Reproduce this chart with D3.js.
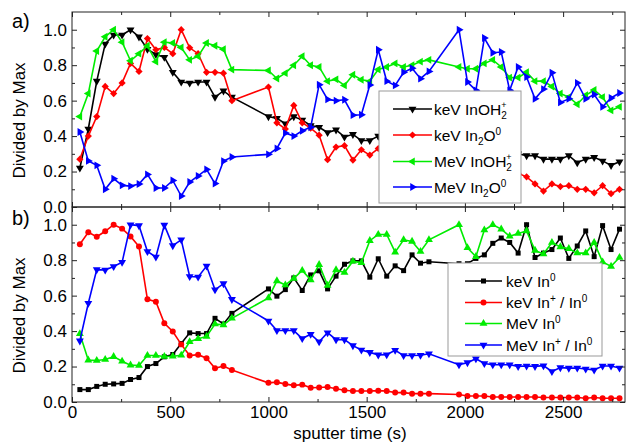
<!DOCTYPE html>
<html>
<head>
<meta charset="utf-8">
<script src="https://cdn.jsdelivr.net/npm/d3@7"></script>
<style>
  body { margin: 0; background: #fff; }
  text { font-family: "Liberation Sans", Arial, sans-serif; fill: #000; }
</style>
</head>
<body>
<div id="chart"></div>
<script>
// sputter times (s), shared by all series
var times = [40, 83, 126, 169, 212, 255, 298, 341, 384, 427, 470, 513, 556, 599, 642, 685, 728, 771, 814,
  1000, 1043, 1086, 1129, 1172, 1215, 1258, 1301, 1344, 1387, 1430, 1473, 1516, 1559, 1602, 1645, 1688, 1731, 1774, 1817,
  1970, 2013, 2056, 2099, 2142, 2185, 2228, 2271, 2314, 2357, 2400, 2443, 2486, 2529, 2572, 2615, 2658, 2701, 2744, 2787];

// panel a
var keVInOH2 = [0.22, 0.44, 0.71, 0.92, 0.97, 0.97, 1.0, 0.96, 0.89, 0.86, 0.845, 0.76, 0.705, 0.70, 0.705, 0.705, 0.62, 0.655, 0.62,
  0.51, 0.50, 0.47, 0.51, 0.49, 0.46, 0.45, 0.42, 0.435, 0.395, 0.41, 0.375, 0.375, 0.40, 0.38, 0.37, 0.37, 0.36, 0.35, 0.34,
  0.33, 0.33, 0.32, 0.32, 0.31, 0.31, 0.30, 0.30, 0.29, 0.29, 0.27, 0.27, 0.27, 0.29, 0.25, 0.27, 0.28, 0.26, 0.235, 0.255];
var keVIn2O = [0.27, 0.40, 0.51, 0.68, 0.64, 0.70, 0.81, 0.765, 0.95, 0.887, 0.90, 0.865, 1.0, 0.898, 0.865, 0.76, 0.76, 0.755, 0.60,
  0.677, 0.475, 0.44, 0.573, 0.475, 0.445, 0.405, 0.267, 0.338, 0.346, 0.265, 0.323, 0.293, 0.33, 0.30, 0.28, 0.27, 0.25, 0.24, 0.23,
  0.22, 0.21, 0.20, 0.20, 0.19, 0.18, 0.18, 0.19, 0.17, 0.13, 0.09, 0.13, 0.115, 0.12, 0.10, 0.10, 0.08, 0.12, 0.075, 0.10];
var MeVInOH2 = [0.51, 0.64, 0.88, 0.96, 1.0, 0.93, 0.825, 0.865, 0.91, 0.82, 0.93, 0.925, 0.90, 0.83, 0.85, 0.925, 0.91, 0.89, 0.775,
  0.77, 0.725, 0.755, 0.80, 0.85, 0.80, 0.79, 0.71, 0.72, 0.686, 0.746, 0.718, 0.71, 0.776, 0.79, 0.81, 0.79, 0.80, 0.82, 0.83,
  0.79, 0.78, 0.78, 0.81, 0.83, 0.79, 0.73, 0.73, 0.76, 0.71, 0.71, 0.68, 0.64, 0.62, 0.58, 0.63, 0.66, 0.62, 0.545, 0.565];
var MeVIn2O = [0.423, 0.26, 0.235, 0.10, 0.16, 0.122, 0.118, 0.13, 0.184, 0.107, 0.107, 0.15, 0.062, 0.141, 0.175, 0.212, 0.132, 0.259, 0.282,
  0.297, 0.33, 0.417, 0.40, 0.43, 0.45, 0.69, 0.607, 0.60, 0.605, 0.518, 0.52, 0.688, 0.887, 0.71, 0.686, 0.76, 0.783, 0.724, 0.765,
  1.0, 0.705, 0.658, 0.953, 0.87, 0.874, 0.658, 0.79, 0.733, 0.61, 0.665, 0.757, 0.59, 0.61, 0.70, 0.61, 0.635, 0.565, 0.615, 0.643];

// panel b
var keVIn = [0.07, 0.07, 0.088, 0.10, 0.102, 0.105, 0.127, 0.138, 0.20, 0.217, 0.255, 0.268, 0.33, 0.39, 0.386, 0.386, 0.472, 0.44, 0.50,
  0.638, 0.597, 0.634, 0.70, 0.629, 0.717, 0.74, 0.638, 0.71, 0.777, 0.796, 0.796, 0.704, 0.808, 0.71, 0.768, 0.741, 0.83, 0.783, 0.791,
  0.78, 0.78, 0.81, 0.83, 0.895, 0.925, 0.90, 0.84, 1.0, 0.815, 0.84, 0.86, 0.925, 0.81, 0.88, 0.965, 0.82, 0.995, 0.86, 0.975];
var keVInRatio = [0.89, 0.957, 0.932, 0.963, 1.0, 0.978, 0.934, 0.877, 0.579, 0.566, 0.444, 0.398, 0.325, 0.262, 0.267, 0.247, 0.19, 0.203, 0.18,
  0.108, 0.112, 0.101, 0.094, 0.098, 0.08, 0.082, 0.085, 0.075, 0.066, 0.062, 0.062, 0.062, 0.064, 0.062, 0.053, 0.053, 0.047, 0.047, 0.047,
  0.042, 0.034, 0.034, 0.034, 0.028, 0.028, 0.028, 0.028, 0.028, 0.028, 0.025, 0.025, 0.025, 0.025, 0.025, 0.021, 0.025, 0.021, 0.021, 0.021];
var MeVIn = [0.385, 0.236, 0.234, 0.24, 0.256, 0.23, 0.208, 0.206, 0.262, 0.262, 0.257, 0.258, 0.264, 0.34, 0.357, 0.37, 0.44, 0.435, 0.472,
  0.587, 0.683, 0.66, 0.697, 0.742, 0.689, 0.775, 0.658, 0.745, 0.73, 0.794, 0.785, 0.91, 0.945, 0.945, 0.845, 0.915, 0.906, 0.849, 0.915,
  1.0, 0.87, 0.82, 0.97, 1.0, 0.975, 0.935, 0.95, 0.965, 0.855, 0.835, 0.90, 0.875, 0.865, 0.84, 0.84, 0.90, 0.79, 0.765, 0.815];
var MeVInRatio = [0.345, 0.557, 0.747, 0.745, 0.764, 0.788, 1.0, 0.995, 0.849, 0.818, 0.998, 0.882, 0.915, 0.708, 0.705, 0.767, 0.633, 0.668, 0.579,
  0.457, 0.403, 0.403, 0.403, 0.358, 0.382, 0.34, 0.391, 0.352, 0.352, 0.318, 0.293, 0.28, 0.266, 0.267, 0.292, 0.262, 0.262, 0.264, 0.272,
  0.21, 0.222, 0.244, 0.217, 0.21, 0.21, 0.21, 0.201, 0.203, 0.201, 0.205, 0.172, 0.194, 0.191, 0.192, 0.186, 0.181, 0.203, 0.203, 0.192];

var xTicks = [0, 500, 1000, 1500, 2000, 2500];
var xMinor = [250, 750, 1250, 1750, 2250, 2750];
var yTicks = [0, 0.2, 0.4, 0.6, 0.8, 1.0];
var yMinor = [0.1, 0.3, 0.5, 0.7, 0.9];

var RED = "#ff0000", GREEN = "#00ec00", BLUE = "#0000ff", BLACK = "#000000";

var svg = d3.select("#chart").append("svg")
  .attr("width", 628)
  .attr("height", 446);

var x = d3.scaleLinear().domain([0, 2815]).range([72, 625]);

// marker shapes
function marker(type) {
  if (type == "down") return { path: d3.symbol(d3.symbolTriangle, 27)(), rot: 180 };
  if (type == "up") return { path: d3.symbol(d3.symbolTriangle, 27)(), rot: 0 };
  if (type == "left") return { path: d3.symbol(d3.symbolTriangle, 27)(), rot: -90 };
  if (type == "right") return { path: d3.symbol(d3.symbolTriangle, 27)(), rot: 90 };
  if (type == "diamond") return { path: d3.symbol(d3.symbolSquare, 26)(), rot: 45 };
  if (type == "square") return { path: d3.symbol(d3.symbolSquare, 25)(), rot: 0 };
  return { path: d3.symbol(d3.symbolCircle, 28)(), rot: 0 };
}

function drawPanel(top, bottom, series, showLabels) {
  var y = d3.scaleLinear().domain([0, 1.1]).range([bottom, top]);
  var g = svg.append("g");

  // data lines and markers
  series.forEach(function(s) {
    var pts = times.map(function(t, i) { return { t: t, v: s.values[i] }; });
    var line = d3.line().x(function(d) { return x(d.t); }).y(function(d) { return y(d.v); });
    g.append("path").datum(pts)
      .attr("d", line)
      .attr("fill", "none")
      .attr("stroke", s.color)
      .attr("stroke-width", 1.6);
    var m = marker(s.shape);
    g.selectAll(null).data(pts).enter().append("path")
      .attr("d", m.path)
      .attr("transform", function(d) { return "translate(" + x(d.t) + "," + y(d.v) + ") rotate(" + m.rot + ")"; })
      .attr("fill", s.color);
  });

  // axes, ticks pointing inward
  var ax = svg.append("g");
  ax.append("g").attr("transform", "translate(72,0)")
    .call(d3.axisLeft(y).tickValues(yTicks).tickSize(-5).tickPadding(5).tickFormat(d3.format(".1f")));
  ax.append("g").attr("transform", "translate(72,0)")
    .call(d3.axisLeft(y).tickValues(yMinor).tickSize(-3).tickFormat(""));
  ax.append("g").attr("transform", "translate(625,0)")
    .call(d3.axisRight(y).tickValues(yTicks).tickSize(-5).tickFormat(""));
  ax.append("g").attr("transform", "translate(625,0)")
    .call(d3.axisRight(y).tickValues(yMinor).tickSize(-3).tickFormat(""));
  ax.append("g").attr("transform", "translate(0," + top + ")")
    .call(d3.axisTop(x).tickValues(xTicks).tickSize(-5).tickFormat(""));
  ax.append("g").attr("transform", "translate(0," + top + ")")
    .call(d3.axisTop(x).tickValues(xMinor).tickSize(-3).tickFormat(""));
  ax.append("g").attr("transform", "translate(0," + bottom + ")")
    .call(d3.axisBottom(x).tickValues(xTicks).tickSize(-5).tickPadding(4)
      .tickFormat(showLabels ? d3.format("d") : ""));
  ax.append("g").attr("transform", "translate(0," + bottom + ")")
    .call(d3.axisBottom(x).tickValues(xMinor).tickSize(-3).tickFormat(""));

  ax.selectAll(".domain").remove();
  ax.selectAll(".tick line").attr("stroke", "#222");
  ax.selectAll(".tick text").style("font-size", "17px").attr("fill", "#000");

  svg.append("rect")
    .attr("x", 72).attr("y", top)
    .attr("width", 625 - 72).attr("height", bottom - top)
    .attr("fill", "none").attr("stroke", "#222").attr("stroke-width", 1);

  svg.append("text")
    .attr("transform", "translate(25," + ((top + bottom) / 2 + 11) + ") rotate(-90)")
    .attr("text-anchor", "middle")
    .style("font-size", "17px")
    .text("Divided by Max");

  return y;
}

// legend label builder: parts = [[text, "n"|"sub"|"sup"|"stack"], ...]
function addLabel(txt, parts) {
  parts.forEach(function(p) {
    if (p[1] == "n") {
      txt.append("tspan").attr("dy", p[2] || 0).text(p[0]);
    } else if (p[1] == "sub") {
      txt.append("tspan").attr("dy", 4).style("font-size", "10px").text(p[0]);
    } else if (p[1] == "sup") {
      txt.append("tspan").attr("dy", -6).style("font-size", "10px").text(p[0]);
    } else if (p[1] == "stack") {
      // subscript 2 with + on top of it
      txt.append("tspan").attr("dy", 4).style("font-size", "10px").text("2");
      txt.append("tspan").attr("dx", -5.6).attr("dy", -11).style("font-size", "9px").text("+");
    }
  });
}

function drawLegend(bx, by, bw, bh, rows, lineX0, lineX1, textX, rowY) {
  var lg = svg.append("g");
  lg.append("rect")
    .attr("x", bx).attr("y", by).attr("width", bw).attr("height", bh)
    .attr("fill", "#fff").attr("stroke", "#999").attr("stroke-width", 1);
  rows.forEach(function(r, i) {
    var cy = rowY[i];
    lg.append("line")
      .attr("x1", lineX0).attr("x2", lineX1).attr("y1", cy).attr("y2", cy)
      .attr("stroke", r.color).attr("stroke-width", 1.6);
    var m = marker(r.shape);
    lg.append("path").attr("d", m.path)
      .attr("transform", "translate(" + ((lineX0 + lineX1) / 2) + "," + cy + ") rotate(" + m.rot + ")")
      .attr("fill", r.color);
    var t = lg.append("text").attr("x", textX).attr("y", cy + 5.5).style("font-size", "15.5px");
    addLabel(t, r.label);
  });
}

var seriesA = [
  { values: keVInOH2, color: BLACK, shape: "down", label: [["keV InOH", "n"], ["", "stack"]] },
  { values: keVIn2O, color: RED, shape: "diamond", label: [["keV In", "n"], ["2", "sub"], ["O", "n", -4], ["0", "sup"]] },
  { values: MeVInOH2, color: GREEN, shape: "left", label: [["MeV InOH", "n"], ["", "stack"]] },
  { values: MeVIn2O, color: BLUE, shape: "right", label: [["MeV In", "n"], ["2", "sub"], ["O", "n", -4], ["0", "sup"]] }
];
var seriesB = [
  { values: keVIn, color: BLACK, shape: "square", label: [["keV In", "n"], ["0", "sup"]] },
  { values: keVInRatio, color: RED, shape: "circle", label: [["keV In", "n"], ["+", "sup"], [" / In", "n", 6], ["0", "sup"]] },
  { values: MeVIn, color: GREEN, shape: "up", label: [["MeV In", "n"], ["0", "sup"]] },
  { values: MeVInRatio, color: BLUE, shape: "down", label: [["MeV In", "n"], ["+", "sup"], [" / In", "n", 6], ["0", "sup"]] }
];

drawPanel(12, 207, seriesA, false);
drawPanel(207, 402, seriesB, true);

drawLegend(379, 91, 142, 112, seriesA, 393, 432, 434, [109, 135, 161.5, 187]);
drawLegend(448, 263, 154, 93, seriesB, 465, 502, 506, [281, 302.5, 323.5, 345]);

// panel letters and x title
svg.append("text").attr("x", 12).attr("y", 28).style("font-size", "20px").text("a)");
svg.append("text").attr("x", 12).attr("y", 225).style("font-size", "20px").text("b)");
svg.append("text")
  .attr("x", 350).attr("y", 439)
  .attr("text-anchor", "middle")
  .style("font-size", "17px")
  .text("sputter time (s)");
</script>
</body>
</html>
